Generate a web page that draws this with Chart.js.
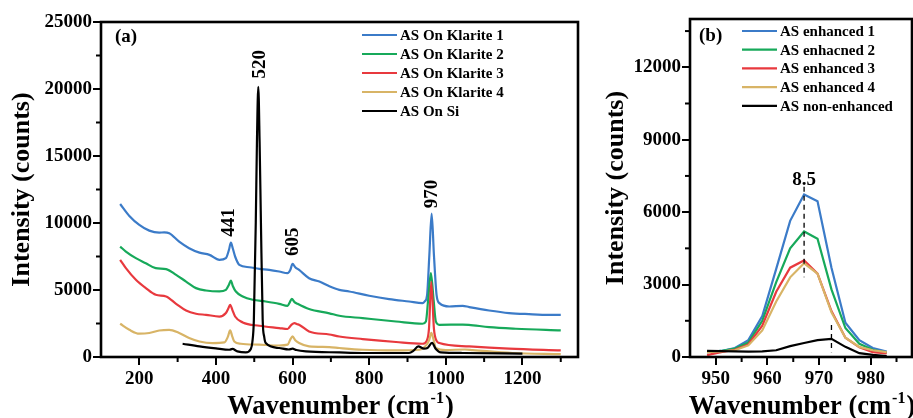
<!DOCTYPE html>
<html>
<head>
<meta charset="utf-8">
<script src="https://cdn.jsdelivr.net/npm/chart.js@4.4.1/dist/chart.umd.min.js"></script>
<style>
  html, body { margin: 0; padding: 0; background: #fff; }
  #wrap { position: relative; width: 913px; height: 418px; overflow: hidden; }
  #chartA { position: absolute; left: 0; top: 0; }
  #chartB { position: absolute; left: 600px; top: 0; }
</style>
</head>
<body>
<div id="wrap">
  <canvas id="chartA" width="600" height="418"></canvas>
  <canvas id="chartB" width="313" height="418"></canvas>
</div>
<script>
// ---- panel (a) data ----
var k1Wave = [150,174,200,226,252,265,278,304,330,357,383,409,426,434,439,444,450,461,487,513,539,565,587,594,600,607,617,643,670,696,722,748,800,852,904,939,945,951,957,963,969,976,984,1009,1044,1061,1113,1165,1217,1270,1300];
var k1Counts = [11420,10530,9860,9430,9280,9300,9240,8610,8120,7790,7620,7250,7375,8000,8540,8100,7500,6880,6700,6580,6500,6380,6260,6500,6950,6700,6500,5880,5630,5280,5010,4890,4570,4320,4140,4020,4150,4600,7600,10700,7600,4600,4000,3770,3820,3725,3470,3280,3200,3150,3150];

var k2Wave = [150,165,191,217,243,270,296,322,348,374,409,426,434,439,444,452,470,496,530,565,587,593,598,605,613,643,696,722,783,870,939,948,954,961,968,974,983,1044,1060,1113,1183,1300];
var k2Counts = [8240,7870,7375,7000,6630,6560,6130,5630,5140,4960,4890,5010,5400,5710,5300,4890,4520,4270,4140,3970,3820,4100,4340,4100,3970,3580,3260,3080,2900,2650,2480,2650,4300,6260,4300,2650,2400,2420,2400,2230,2110,1980];

var k3Wave = [150,165,191,217,243,270,296,322,348,374,409,426,432,437,443,450,470,513,565,587,597,605,612,617,643,696,722,783,870,939,950,956,962,969,976,983,1061,1165,1300];
var k3Counts = [7250,6630,5760,5140,4640,4520,3970,3470,3230,3150,3020,3280,3600,3900,3500,3020,2580,2330,2160,2090,2400,2530,2450,2410,1910,1680,1530,1340,1120,990,1200,2100,5600,2100,1200,1040,790,620,490];

var k4Wave = [150,174,200,226,252,278,304,330,357,391,422,431,437,443,448,465,513,565,587,594,600,607,617,643,696,722,783,870,931,950,957,962,968,974,1000,1050,1070,1174,1300];
var k4Counts = [2480,2030,1740,1790,1980,2030,1790,1420,1160,1040,1090,1500,1980,1500,1160,990,920,860,920,1300,1540,1250,1040,790,740,670,540,490,540,920,1300,1800,1300,670,520,560,520,300,220];

var siWave = [313,357,400,435,443,456,478,491,495,499,504,507,510.5,514,517.4,522,526,530,565,590,600,610,635,722,783,904,915,928,943,952,964,974,987,1044,1200];
var siCounts = [990,790,640,540,600,420,340,600,1100,2800,10060,16000,20160,16000,10060,2780,1500,1040,670,560,620,520,420,340,300,300,450,790,620,670,1050,600,340,300,250];

var namesA = ['AS On Klarite 1', 'AS On Klarite 2', 'AS On Klarite 3', 'AS On Klarite 4', 'AS On Si'];
var xTicksA = [200, 400, 600, 800, 1000, 1200];
var xMinorA = [300, 500, 700, 900, 1100, 1300];
var yTicksA = [0, 5000, 10000, 15000, 20000, 25000];
var yMinorA = [2500, 7500, 12500, 17500, 22500];

// ---- panel (b) data ----
var waveB = [948.3, 951.0, 953.7, 956.3, 959.0, 961.7, 964.4, 967.1, 969.7, 972.4, 975.1, 977.8, 980.4, 983.1];
var enh1 = [200, 250, 370, 700, 1700, 3650, 5640, 6730, 6450, 3700, 1420, 700, 370, 220];
var enh2 = [200, 250, 350, 600, 1500, 3100, 4500, 5200, 4900, 2800, 1200, 550, 300, 180];
var enh3 = [80, 200, 300, 520, 1300, 2700, 3700, 4000, 3450, 1900, 800, 400, 200, 150];
var enh4 = [200, 230, 280, 480, 1100, 2300, 3300, 3880, 3450, 1850, 800, 420, 280, 200];
var nonEnh = [250, 240, 230, 220, 230, 280, 450, 580, 700, 750, 420, 160, 90, 40];
var namesB = ['AS enhanced 1', 'AS enhacned 2', 'AS enhanced 3', 'AS enhanced 4', 'AS non-enhanced'];
var xTicksB = [950, 960, 970, 980];
var xMinorB = [955, 965, 975, 985];
var yTicksB = [0, 3000, 6000, 9000, 12000];
var yMinorB = [1500, 4500, 7500, 10500, 13500];

var colors = ['#3b7bc8', '#17a95a', '#e8393e', '#d8b466', '#000000'];
var SERIF = "'Liberation Serif', 'Times New Roman', serif";

Chart.defaults.font.family = SERIF;
Chart.defaults.font.weight = 'bold';
Chart.defaults.color = '#000';

function pts(xs, ys) {
    return xs.map(function(x, i) { return {x: x, y: ys[i]}; });
}

// box round the plot + minor ticks
var frame = {
    id: 'frame',
    afterDraw: function(chart, args, opts) {
        var ctx = chart.ctx, a = chart.chartArea;
        var x = chart.scales.x, y = chart.scales.y;
        ctx.save();
        ctx.strokeStyle = '#000';
        ctx.lineWidth = 2;
        opts.xMinor.forEach(function(v) {
            var px = x.getPixelForValue(v);
            ctx.beginPath(); ctx.moveTo(px, a.bottom); ctx.lineTo(px, a.bottom + 5); ctx.stroke();
        });
        opts.yMinor.forEach(function(v) {
            var py = y.getPixelForValue(v);
            ctx.beginPath(); ctx.moveTo(a.left, py); ctx.lineTo(a.left - 5, py); ctx.stroke();
        });
        ctx.lineWidth = 2.6;
        ctx.strokeRect(a.left, a.top, a.right - a.left, a.bottom - a.top);
        ctx.restore();
    }
};

// legend drawn inside the plot
var keyBox = {
    id: 'keyBox',
    afterDraw: function(chart, args, opts) {
        var ctx = chart.ctx;
        ctx.save();
        ctx.font = 'bold 15px ' + SERIF;
        ctx.textBaseline = 'middle';
        ctx.textAlign = 'left';
        var row = 0;
        chart.data.datasets.forEach(function(ds) {
            if (ds.borderDash) return;
            var yy = opts.y + row * opts.step;
            ctx.strokeStyle = ds.borderColor;
            ctx.lineWidth = 2.2;
            ctx.beginPath(); ctx.moveTo(opts.x, yy); ctx.lineTo(opts.x + 35, yy); ctx.stroke();
            ctx.fillStyle = '#000';
            ctx.fillText(ds.label, opts.x + 38, yy + 1);
            row++;
        });
        ctx.restore();
    }
};

// panel letter, peak labels and x title with superscript
var notes = {
    id: 'notes',
    afterDraw: function(chart, args, opts) {
        var ctx = chart.ctx, a = chart.chartArea;
        var x = chart.scales.x, y = chart.scales.y;
        ctx.save();
        ctx.fillStyle = '#000';
        ctx.font = 'bold 19px ' + SERIF;
        ctx.textAlign = 'left';
        ctx.textBaseline = 'middle';
        ctx.fillText(opts.letter, a.left + opts.letterDx, a.top + opts.letterDy);
        ctx.textAlign = 'center';
        opts.items.forEach(function(it) {
            var px = x.getPixelForValue(it.x), py = y.getPixelForValue(it.y);
            ctx.save();
            ctx.translate(px, py);
            if (it.rotate) ctx.rotate(-Math.PI / 2);
            ctx.fillText(it.text, 0, 1);
            ctx.restore();
        });
        // x title
        var main = 'Wavenumber (cm', sup = '-1', tail = ')';
        var big = 'bold 26.5px ' + SERIF, small = 'bold 16px ' + SERIF;
        ctx.textAlign = 'left';
        ctx.textBaseline = 'alphabetic';
        ctx.font = big; var w1 = ctx.measureText(main).width, w3 = ctx.measureText(tail).width;
        ctx.font = small; var w2 = ctx.measureText(sup).width;
        var sx = (a.left + a.right) / 2 - (w1 + w2 + w3) / 2;
        var base = chart.height - 4;
        ctx.font = big; ctx.fillText(main, sx, base);
        ctx.font = small; ctx.fillText(sup, sx + w1 + 1, base - 11);
        ctx.font = big; ctx.fillText(tail, sx + w1 + w2 + 2, base);
        ctx.restore();
    }
};

function axisOpts(min, max, ticks, size, isY, titlePad) {
    var o = {
        type: 'linear', min: min, max: max,
        afterBuildTicks: function(s) { s.ticks = ticks.map(function(v) { return {value: v}; }); },
        afterFit: function(s) { if (isY) s.width = size; else s.height = size; },
        grid: {drawOnChartArea: false, color: '#000', lineWidth: 2, tickLength: 8},
        border: {display: false},
        ticks: {color: '#000', font: {size: 19, weight: 'bold'}, padding: isY ? 1 : 3,
                maxRotation: 0, autoSkip: false, callback: function(v) { return String(v); }}
    };
    if (isY) {
        o.title = {display: true, text: 'Intensity (counts)', color: '#000',
                   font: {size: 26, weight: 'bold'}, padding: {top: titlePad, bottom: 0}};
    }
    return o;
}

function lineSet(label, xs, ys, i, smooth) {
    return {
        label: label, data: pts(xs, ys), borderColor: colors[i], backgroundColor: colors[i],
        borderWidth: 2.2, pointRadius: 0, order: 4 - i,
        cubicInterpolationMode: smooth ? 'monotone' : 'default', tension: 0
    };
}

var ctx = document.getElementById('chartA');
var chartA = new Chart(ctx, {
    type: 'line',
    data: {
        datasets: [
            lineSet(namesA[0], k1Wave, k1Counts, 0, true),
            lineSet(namesA[1], k2Wave, k2Counts, 1, true),
            lineSet(namesA[2], k3Wave, k3Counts, 2, true),
            lineSet(namesA[3], k4Wave, k4Counts, 3, true),
            lineSet(namesA[4], siWave, siCounts, 4, true)
        ]
    },
    options: {
        responsive: false,
        animation: false,
        layout: {padding: {top: 22, right: 22, left: 0, bottom: 0}},
        scales: {
            x: axisOpts(100, 1345, xTicksA, 61, false),
            y: axisOpts(0, 25000, yTicksA, 101, true, 7)
        },
        plugins: {
            legend: {display: false},
            tooltip: {enabled: false},
            frame: {xMinor: xMinorA, yMinor: yMinorA},
            keyBox: {x: 362, y: 35, step: 19},
            notes: {
                letter: '(a)', letterDx: 14, letterDy: 15,
                items: [
                    {text: '520', x: 513, y: 21850, rotate: true},
                    {text: '441', x: 432, y: 10040, rotate: true},
                    {text: '605', x: 598, y: 8610, rotate: true},
                    {text: '970', x: 962, y: 12170, rotate: true}
                ]
            }
        }
    },
    plugins: [frame, keyBox, notes]
});

var ctx = document.getElementById('chartB');
var chartB = new Chart(ctx, {
    type: 'line',
    data: {
        datasets: [
            lineSet(namesB[0], waveB, enh1, 0, false),
            lineSet(namesB[1], waveB, enh2, 1, false),
            lineSet(namesB[2], waveB, enh3, 2, false),
            lineSet(namesB[3], waveB, enh4, 3, false),
            lineSet(namesB[4], waveB, nonEnh, 4, false),
            {label: 'peak 1', data: pts([967.1, 967.1], [7050, 3300]), borderColor: '#000',
             borderWidth: 1.3, borderDash: [5, 4], pointRadius: 0, order: -1},
            {label: 'peak 2', data: pts([972.4, 972.4], [1330, 200]), borderColor: '#000',
             borderWidth: 1.3, borderDash: [5, 4], pointRadius: 0, order: -1}
        ]
    },
    options: {
        responsive: false,
        animation: false,
        layout: {padding: {top: 19, right: 1, left: 0, bottom: 0}},
        scales: {
            x: axisOpts(945, 988, xTicksB, 61, false),
            y: axisOpts(0, 14000, yTicksB, 90, true, 1)
        },
        plugins: {
            legend: {display: false},
            tooltip: {enabled: false},
            frame: {xMinor: xMinorB, yMinor: yMinorB},
            keyBox: {x: 142, y: 31, step: 18.7},
            notes: {
                letter: '(b)', letterDx: 9, letterDy: 17,
                items: [
                    {text: '8.5', x: 967.1, y: 7370, rotate: false}
                ]
            }
        }
    },
    plugins: [frame, keyBox, notes]
});
</script>
</body>
</html>
